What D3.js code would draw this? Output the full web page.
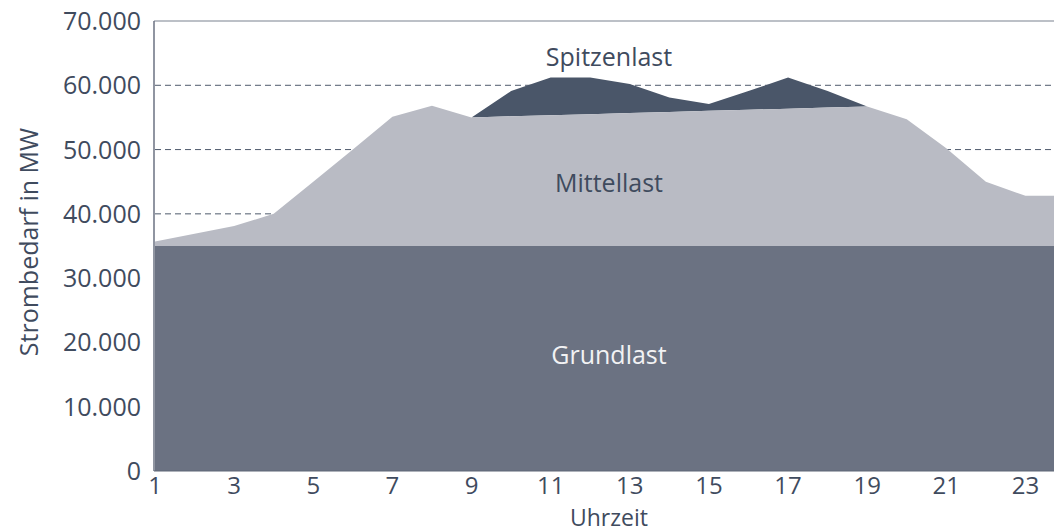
<!DOCTYPE html>
<html><head><meta charset="utf-8">
<script src="https://cdn.jsdelivr.net/npm/d3@7"></script>
<style>
html,body{margin:0;padding:0;background:#fff;}
svg{display:block;font-family:"Open Sans",sans-serif;}
</style></head>
<body><svg id="chart" width="1054" height="531"></svg>
<script>
const hours = [1,2,3,4,5,6,7,8,9,10,11,12,13,14,15,16,17,18,19,20,21,22,23,24];
const grundlast = [35000,35000,35000,35000,35000,35000,35000,35000,35000,35000,35000,35000,35000,35000,35000,35000,35000,35000,35000,35000,35000,35000,35000,35000];
const mittellastTop = [35700,36900,38100,40000,45000,50000,55100,56800,55000,55170,55340,55510,55680,55850,56020,56190,56360,56530,56700,54700,50200,45000,42800,42800];
const spitzenlastTop = [35700,36900,38100,40000,45000,50000,55100,56800,55000,59100,61200,61200,60200,58100,57100,59100,61200,59100,56700,54700,50200,45000,42800,42800];
const yTicks = [0,10000,20000,30000,40000,50000,60000,70000];
const xTicks = [1,3,5,7,9,11,13,15,17,19,21,23];
const gridValues = [40000,50000,60000];

const svg = d3.select("#chart");
const W = 1054, H = 531;
const x = d3.scaleLinear().domain([1,24]).range([155,1065]);
const y = d3.scaleLinear().domain([0,70000]).range([471,21]);
const textCol = "#3f4b5e";
const fs = 25;

svg.append("defs").append("clipPath").attr("id","clip")
  .append("rect").attr("x",154).attr("y",0).attr("width",W-154).attr("height",H);

const data = hours.map((h,i)=>({h, g:grundlast[i], m:mittellastTop[i], s:spitzenlastTop[i]}));

// top border
svg.append("line").attr("x1",154).attr("x2",W).attr("y1",y(70000)).attr("y2",y(70000))
  .attr("stroke","#7a8190").attr("stroke-width",1.2);

// dashed grid
svg.selectAll(".grid").data(gridValues).enter().append("line")
  .attr("x1",155).attr("x2",W).attr("y1",d=>y(d)).attr("y2",d=>y(d))
  .attr("stroke","#4e5a6c").attr("stroke-width",1).attr("stroke-dasharray","6,4");

const g = svg.append("g").attr("clip-path","url(#clip)");
g.append("path").datum(data)
  .attr("d", d3.area().x(d=>x(d.h)).y0(d=>y(d.m)).y1(d=>y(d.s)))
  .attr("fill","#4a5669");
g.append("path").datum(data)
  .attr("d", d3.area().x(d=>x(d.h)).y0(d=>y(d.g)).y1(d=>y(d.m)))
  .attr("fill","#b9bbc4");
g.append("path").datum(data)
  .attr("d", d3.area().x(d=>x(d.h)).y0(y(0)).y1(d=>y(d.g)))
  .attr("fill","#6b7282");

// axes lines
svg.append("line").attr("x1",154).attr("x2",154).attr("y1",y(70000)).attr("y2",y(0))
  .attr("stroke","#6b7282").attr("stroke-width",1.5);
svg.append("line").attr("x1",154).attr("x2",W).attr("y1",y(0)).attr("y2",y(0))
  .attr("stroke","#5f6677").attr("stroke-width",1.2);

// y axis labels
const fmt = v => v===0 ? "0" : d3.format(",")(v).replace(/,/g,".");
svg.selectAll(".yl").data(yTicks).enter().append("text")
  .attr("x",141).attr("y",d=>y(d)).attr("dy","0.36em")
  .attr("text-anchor","end").attr("font-size",fs).attr("fill",textCol)
  .text(fmt);

svg.selectAll(".xl").data(xTicks).enter().append("text")
  .attr("x",d=>x(d)).attr("y",494).attr("text-anchor","middle")
  .attr("font-size",24).attr("fill",textCol).text(d=>d);

svg.append("text").attr("x",609).attr("y",525.5).attr("text-anchor","middle")
  .attr("font-size",23).attr("fill",textCol).text("Uhrzeit");
svg.append("text").attr("transform","translate(38,242) rotate(-90)")
  .attr("text-anchor","middle").attr("font-size",fs).attr("fill",textCol).text("Strombedarf in MW");

svg.append("text").attr("x",609).attr("y",66).attr("text-anchor","middle")
  .attr("font-size",fs).attr("fill",textCol).text("Spitzenlast");
svg.append("text").attr("x",609).attr("y",192).attr("text-anchor","middle")
  .attr("font-size",fs).attr("fill",textCol).text("Mittellast");
svg.append("text").attr("x",609).attr("y",364).attr("text-anchor","middle")
  .attr("font-size",fs).attr("fill","#f2f2f4").text("Grundlast");
</script></body></html>
